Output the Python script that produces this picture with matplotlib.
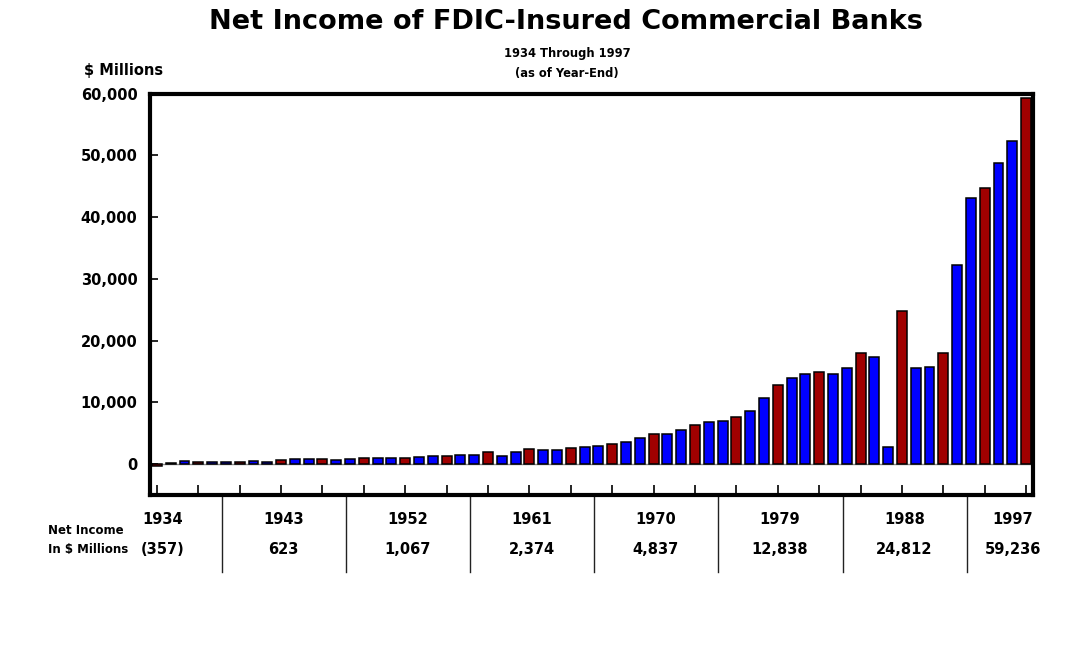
import numpy as np
import matplotlib
matplotlib.use("Agg")
import matplotlib.pyplot as plt
from matplotlib.ticker import FuncFormatter

plt.rcParams['font.family'] = 'DejaVu Sans'
plt.rcParams['font.weight'] = 'bold'

# Net income of commercial banks, $ millions, 1934-1997
years = list(range(1934, 1998))
income = [
    -357, 222, 495, 346, 330, 350, 356, 424, 420, 623,
    781, 896, 882, 738, 900, 930, 966, 990, 1067, 1101,
    1250, 1300, 1431, 1430, 1954, 1352, 1960, 2374, 2300, 2320,
    2560, 2844, 2893, 3290, 3640, 4150, 4837, 4950, 5532, 6383,
    6836, 7010, 7700, 8628, 10712, 12838, 14010, 14600, 14950, 14600,
    15502, 17977, 17418, 2803, 24812, 15575, 15800, 17935, 32256, 43049,
    44622, 48745, 52351, 59236,
]

# table below the chart
table_years = ['1934', '1943', '1952', '1961', '1970', '1979', '1988', '1997']
table_values = ['(357)', '623', '1,067', '2,374', '4,837', '12,838', '24,812', '59,236']

blue = '#0000FF'
red = '#A00000'
colors = [red if (y - 1934) % 3 == 0 else blue for y in years]

fig = plt.figure(figsize=(10.69, 6.70), dpi=100)
ax = fig.add_axes([150 / 1069, 1 - 495 / 670, 883 / 1069, 401.5 / 670])

ax.axhline(0, color='#888888', lw=1, zorder=0.5)
ax.bar(years, income, width=0.72, color=colors, edgecolor='black', linewidth=1.1, zorder=2)

ax.set_xlim(1933.5, 1997.5)
ax.set_ylim(-5000, 60000)
ax.set_yticks(np.arange(0, 60001, 10000))
ax.yaxis.set_major_formatter(FuncFormatter(lambda v, p: '{:,.0f}'.format(v)))
ax.set_xticks(years[::3])

for s in ax.spines.values():
    s.set_linewidth(3)
ax.tick_params(axis='y', direction='in', length=6, width=1.2, pad=9, labelsize=10.5)
ax.tick_params(axis='x', direction='in', length=7, width=1.2, labelbottom=False)
for lab in ax.get_yticklabels():
    lab.set_fontweight('bold')

# titles
fig.text(566 / 1069, 1 - 22 / 670, 'Net Income of FDIC-Insured Commercial Banks',
         ha='center', va='center', fontsize=19.5, fontweight='bold')
fig.text(567 / 1069, 1 - 53 / 670, '1934 Through 1997', ha='center', va='center',
         fontsize=8.3, fontweight='bold')
fig.text(567 / 1069, 1 - 73 / 670, '(as of Year-End)', ha='center', va='center',
         fontsize=8.3, fontweight='bold')
fig.text(84 / 1069, 1 - 71 / 670, '$ Millions', ha='left', va='center',
         fontsize=10.5, fontweight='bold')

# table under the axis
trans = ax.get_xaxis_transform()
def ay(py):
    return (495 - py) / 401.5

xpos = [1934.43] + [int(t) + 0.17 for t in table_years[1:-1]] + [1996.03]
for x, t, v in zip(xpos, table_years, table_values):
    ax.text(x, ay(519), t, transform=trans, ha='center', va='center',
            fontsize=10.5, fontweight='bold', clip_on=False)
    ax.text(x, ay(550), v, transform=trans, ha='center', va='center',
            fontsize=10.5, fontweight='bold', clip_on=False)
for t in table_years[:-1]:
    ax.plot([int(t) + 4.7] * 2, [ay(497), ay(572)], transform=trans,
            color='#222222', lw=1, clip_on=False)

fig.text(48 / 1069, 1 - 531 / 670, 'Net Income', ha='left', va='center',
         fontsize=8.5, fontweight='bold')
fig.text(48 / 1069, 1 - 550 / 670, 'In $ Millions', ha='left', va='center',
         fontsize=8.5, fontweight='bold')

fig.savefig('out.png', dpi=100)
